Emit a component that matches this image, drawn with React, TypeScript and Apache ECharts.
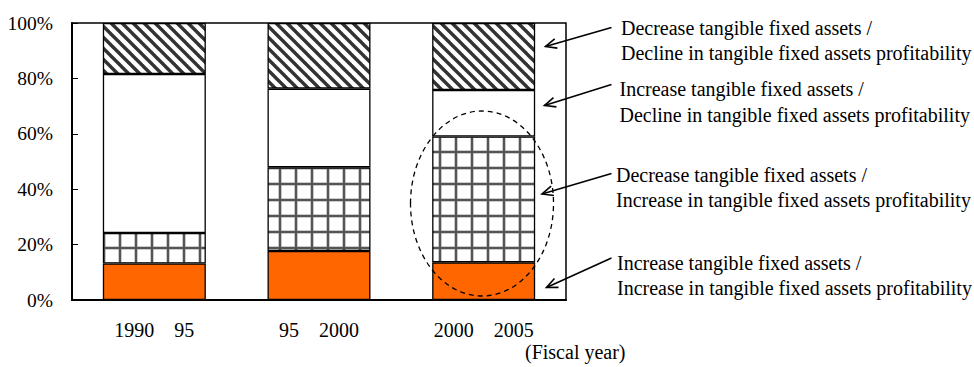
import React, { useEffect, useRef } from "react";
import * as echarts from "echarts";

const categories = ["1990    95", "95    2000", "2000    2005"];
// shares (%) of each stacked segment, bottom to top
const incIncValues = [13.2, 17.7, 13.6]; // Increase assets / Increase profitability (orange)
const decIncValues = [11.0, 30.2, 45.4]; // Decrease assets / Increase profitability (grid)
const incDecValues = [57.4, 28.4, 16.8]; // Increase assets / Decline profitability (white)
const decDecValues = [18.4, 23.7, 24.2]; // Decrease assets / Decline profitability (hatch)
const yTicks = [0, 20, 40, 60, 80, 100];

const FONT = "'Liberation Serif', 'Times New Roman', 'DejaVu Serif', serif";

function makeHatch(): HTMLCanvasElement {
  const s = 11;
  const c = document.createElement("canvas");
  c.width = s;
  c.height = s;
  const ctx = c.getContext("2d")!;
  ctx.fillStyle = "#ffffff";
  ctx.fillRect(0, 0, s, s);
  ctx.strokeStyle = "#333333";
  ctx.lineWidth = 3.4;
  for (const k of [-s, 0, s]) {
    ctx.beginPath();
    ctx.moveTo(k - 2, -2);
    ctx.lineTo(k + s + 2, s + 2);
    ctx.stroke();
  }
  return c;
}

function makeGrid(): HTMLCanvasElement {
  const s = 16;
  const c = document.createElement("canvas");
  c.width = s;
  c.height = s;
  const ctx = c.getContext("2d")!;
  ctx.fillStyle = "#ffffff";
  ctx.fillRect(0, 0, s, s);
  ctx.fillStyle = "#999999";
  ctx.fillRect(6.5, 0, 3, s);
  ctx.fillRect(0, 6.5, s, 3);
  ctx.fillStyle = "#555555";
  ctx.fillRect(7, 0, 2, s);
  ctx.fillRect(0, 7, s, 2);
  return c;
}

function arrow(x1: number, y1: number, x2: number, y2: number): any[] {
  const ang = Math.atan2(y1 - y2, x1 - x2);
  const L = 12;
  const a = (24 * Math.PI) / 180;
  const p1 = [x2 + L * Math.cos(ang + a), y2 + L * Math.sin(ang + a)];
  const p2 = [x2 + L * Math.cos(ang - a), y2 + L * Math.sin(ang - a)];
  return [
    {
      type: "line",
      z: 100,
      shape: { x1, y1, x2, y2 },
      style: { stroke: "#000", lineWidth: 1.6 },
    },
    {
      type: "polyline",
      z: 100,
      shape: { points: [p1, [x2, y2], p2] },
      style: { stroke: "#000", lineWidth: 1.6, fill: null },
    },
  ];
}

function txt(x: number, y: number, text: string): any {
  return {
    type: "text",
    z: 100,
    x,
    y,
    style: {
      text,
      fill: "#000",
      font: `20px ${FONT}`,
      textVerticalAlign: "middle",
      textAlign: "left",
    },
  };
}

export default function App() {
  const ref = useRef<HTMLDivElement>(null);
  useEffect(() => {
    if (!ref.current) return;
    const chart = echarts.init(ref.current, undefined, { renderer: "svg" });
    const hatch = { image: makeHatch(), repeat: "repeat" } as any;
    const grid = { image: makeGrid(), repeat: "repeat" } as any;
    const barCommon = {
      type: "bar",
      stack: "total",
      barWidth: 103,
      silent: true,
    };
    const border = { borderColor: "#000", borderWidth: 1.3 };
    chart.setOption({
      animation: false,
      backgroundColor: "#fff",
      grid: {
        left: 72,
        top: 23,
        width: 494,
        height: 277,
        show: true,
        borderColor: "#000",
        borderWidth: 1.5,
        backgroundColor: "transparent",
      },
      xAxis: {
        type: "category",
        data: categories,
        axisLine: { lineStyle: { color: "#000", width: 2 } },
        axisTick: { inside: true, length: 5, lineStyle: { color: "#666", width: 1 } },
        axisLabel: {
          color: "#000",
          fontSize: 20,
          fontFamily: FONT,
          margin: 20,
        },
      },
      yAxis: {
        type: "value",
        min: yTicks[0],
        max: yTicks[yTicks.length - 1],
        interval: 20,
        axisLine: { show: true, lineStyle: { color: "#000", width: 2 } },
        axisTick: { show: true, inside: true, length: 6, lineStyle: { color: "#000", width: 1 } },
        splitLine: { show: false },
        axisLabel: {
          color: "#000",
          fontSize: 19.5,
          fontFamily: FONT,
          margin: 19,
          formatter: "{value}%",
        },
      },
      series: [
        { ...barCommon, name: "inc-inc", data: incIncValues, itemStyle: { color: "#FF6600", ...border } },
        { ...barCommon, name: "dec-inc", data: decIncValues, itemStyle: { color: grid, ...border } },
        { ...barCommon, name: "inc-dec", data: incDecValues, itemStyle: { color: "#ffffff", ...border } },
        { ...barCommon, name: "dec-dec", data: decDecValues, itemStyle: { color: hatch, ...border } },
      ],
      graphic: [
        {
          type: "ellipse",
          z: 100,
          shape: { cx: 482, cy: 203.5, rx: 71.5, ry: 92.5 },
          style: { fill: null, stroke: "#000", lineWidth: 1.3, lineDash: [5, 4] },
        },
        ...arrow(611.5, 27.5, 545.5, 46.5),
        ...arrow(611.5, 84.5, 544.5, 105.5),
        ...arrow(611.5, 173.5, 542, 194),
        ...arrow(611.5, 258, 546.5, 287.5),
        txt(621, 28, "Decrease tangible fixed assets /"),
        txt(621, 53, "Decline in tangible fixed assets profitability"),
        txt(619.5, 89, "Increase tangible fixed assets /"),
        txt(619.5, 115, "Decline in tangible fixed assets profitability"),
        txt(616, 175, "Decrease tangible fixed assets /"),
        txt(616, 200, "Increase in tangible fixed assets profitability"),
        txt(617, 263, "Increase tangible fixed assets /"),
        txt(617, 288, "Increase in tangible fixed assets profitability"),
        txt(525, 352, "(Fiscal year)"),
      ],
    });
    return () => chart.dispose();
  }, []);
  return (
    <div
      ref={ref}
      style={{ position: "fixed", left: 0, top: 0, width: 974, height: 367, background: "#fff" }}
    />
  );
}
